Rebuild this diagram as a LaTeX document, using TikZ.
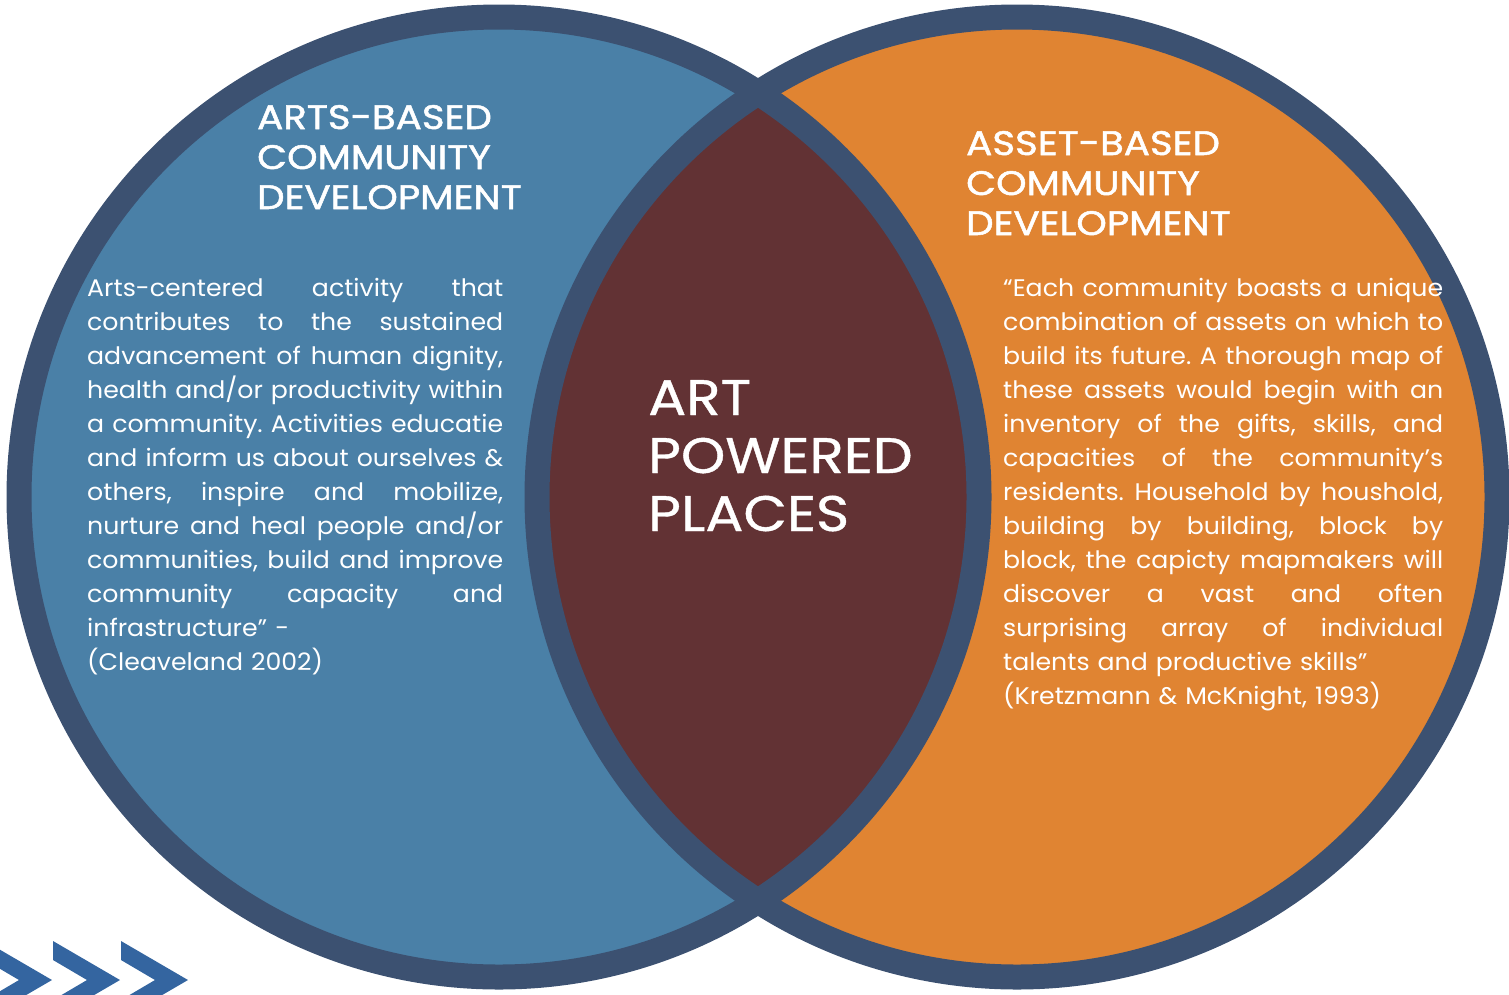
\documentclass[tikz,border=0pt]{standalone}
\usepackage{fontspec}
\setmainfont{Poppins}[FakeStretch=1.05]
\newfontfamily\headfont{Poppins}[FakeBold=1.5,FakeStretch=1.14]
\newfontfamily\bigfont{Poppins}[FakeBold=0.8,FakeStretch=1.13]
\usetikzlibrary{calc}

\definecolor{ringblue}{RGB}{60,81,113}
\definecolor{leftblue}{RGB}{74,128,167}
\definecolor{rightorange}{RGB}{224,132,50}
\definecolor{lensred}{RGB}{98,50,52}
\definecolor{chevblue}{RGB}{52,101,160}

% one justified line of body text
\newcommand\jl[1]{{\spaceskip=0pt\xspaceskip=0pt\makebox[\linewidth][s]{#1}}\\}

\tikzset{
	ring/.style={draw=ringblue,line width=25pt},
	heading/.style={anchor=base west,inner sep=0pt,text=white,align=left,
		text width=320pt,font=\headfont\fontsize{34}{40}\selectfont},
	body/.style={anchor=base west,inner sep=0pt,text=white,align=left,
		font=\frenchspacing\fontsize{24}{34}\selectfont},
	centre/.style={anchor=base west,inner sep=0pt,text=white,align=left,
		text width=300pt,font=\bigfont\fontsize{50}{58}\selectfont}
}

\begin{document}
\begin{tikzpicture}[x=1pt,y=-1pt]
	\useasboundingbox (0,0) rectangle (1509,994);
	\coordinate (abcd) at (499,497);
	\coordinate (abcd2) at (1017,497);

	% the two sets and their overlap
	\fill[leftblue] (abcd) circle (480);
	\fill[rightorange] (abcd2) circle (480);
	\begin{scope}
		\clip (abcd) circle (480);
		\fill[lensred] (abcd2) circle (480);
	\end{scope}
	\draw[ring] (abcd) circle (480);
	\draw[ring] (abcd2) circle (480);

	% arrows in the corner
	\foreach \x in {0,1,2} {
		\fill[chevblue] (-15+68*\x,941) -- ++(67,39) -- ++(-67,39) -- ++(0,-19)
			-- ++(34,-20) -- ++(-34,-20) -- cycle;
	}

	\node[heading] (arts) at (257,129) {ARTS-BASED\\COMMUNITY\\DEVELOPMENT};
	\node[heading] (asset) at (966,155) {ASSET-BASED\\COMMUNITY\\DEVELOPMENT};
	\node[centre] (app) at (648,415) {ART\\POWERED\\PLACES};

	\node[body,text width=416pt] (artstext) at (87,296) {%
		\jl{Arts-centered activity that}
		\jl{contributes to the sustained}
		\jl{advancement of human dignity,}
		\jl{health and/or productivity within}
		\jl{a community. Activities educatie}
		\jl{and inform us about ourselves \&}
		\jl{others, inspire and mobilize,}
		\jl{nurture and heal people and/or}
		\jl{communities, build and improve}
		\jl{community capacity and}
		infrastructure” -\\
		(Cleaveland 2002)};

	\node[body,text width=440pt] (assettext) at (1003,296) {%
		\jl{“Each community boasts a unique}
		\jl{combination of assets on which to}
		\jl{build its future. A thorough map of}
		\jl{these assets would begin with an}
		\jl{inventory of the gifts, skills, and}
		\jl{capacities of the community’s}
		\jl{residents. Household by houshold,}
		\jl{building by building, block by}
		\jl{block, the capicty mapmakers will}
		\jl{discover a vast and often}
		\jl{surprising array of individual}
		talents and productive skills”\\
		(Kretzmann \& McKnight, 1993)};
\end{tikzpicture}
\end{document}
